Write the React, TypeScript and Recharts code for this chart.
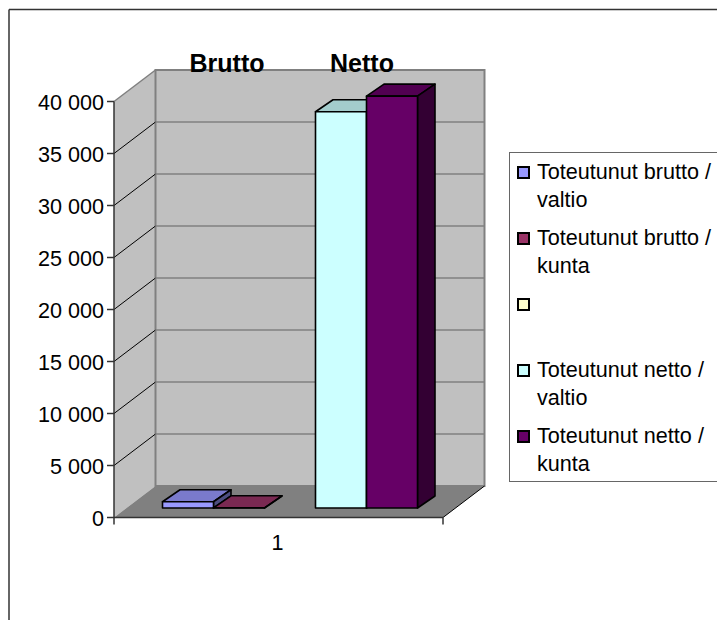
import { BarChart, Bar, XAxis, YAxis, CartesianGrid, Legend, Customized } from 'recharts'

const categories = ['1']
const seriesNames = [
  'Toteutunut brutto / valtio',
  'Toteutunut brutto / kunta',
  ' ',
  'Toteutunut netto / valtio',
  'Toteutunut netto / kunta',
]
const seriesKeys = ['bruttoValtio', 'bruttoKunta', 'blank', 'nettoValtio', 'nettoKunta']
const seriesValues = [[600], [20], [null], [38100], [39600]]
const seriesColors = ['#9999ff', '#993366', '#ffffcc', '#ccffff', '#660066']
const yTicks = [0, 5000, 10000, 15000, 20000, 25000, 30000, 35000, 40000]

const data = categories.map((category, i) => {
  const row: Record<string, any> = { category }
  seriesKeys.forEach((key, s) => { row[key] = seriesValues[s][i] })
  return row
})

const W = 717
const H = 620
const PLOT = { left: 114, right: 443, top: 101.5, bottom: 517.5 }
const WALL_DX = 41.5
const WALL_DY = -31.5
const BAR_DX = 11.5
const BAR_DY = -9.5
const FACE_DX = 17.5
const FACE_DY = -12
const FONT = '"Liberation Sans", Arial, sans-serif'
const TEXT_SIZE = 21.6

const fmt = (v: number) => (v === 0 ? '0' : `${Math.floor(v / 1000)} 000`)

const shade = (hex: string, k: number) => {
  const n = parseInt(hex.slice(1), 16)
  const c = [(n >> 16) & 255, (n >> 8) & 255, n & 255].map((v) => Math.round(v * k))
  return `rgb(${c.join(',')})`
}

const pts = (list: number[][]) => list.map((p) => p.join(',')).join(' ')

// sits behind the transparent chart svg
function Walls() {
  const { left, right, top, bottom } = PLOT
  const bl = left + WALL_DX
  const br = right + WALL_DX
  const bt = top + WALL_DY
  const bb = bottom + WALL_DY
  return (
    <svg width={W} height={H} style={{ position: 'absolute', left: 0, top: 0 }}>
      <line x1={9} y1={9.5} x2={W} y2={9.5} stroke="#333" strokeWidth={1.5} />
      <line x1={9} y1={9.5} x2={9} y2={H} stroke="#333" strokeWidth={1.5} />
      <polygon points={pts([[left, top], [bl, bt], [bl, bb], [left, bottom]])} fill="#c0c0c0" />
      <rect x={bl} y={bt} width={br - bl} height={bb - bt} fill="#c0c0c0" stroke="#808080" strokeWidth={2} />
      <polygon points={pts([[left, bottom], [bl, bb], [br, bb], [right, bottom]])} fill="#808080" />
      <line x1={right} y1={bottom} x2={br} y2={bb} stroke="#000" strokeWidth={1} />
      <line x1={left} y1={bottom} x2={left} y2={bottom + 7} stroke="#333" strokeWidth={1.5} />
      <line x1={right} y1={bottom} x2={right} y2={bottom + 7} stroke="#333" strokeWidth={1.5} />
    </svg>
  )
}

function Titles() {
  return (
    <g fontFamily={FONT} fontSize={25} fontWeight="bold" fill="#000" textAnchor="middle">
      <text x={227} y={72}>Brutto</text>
      <text x={362} y={72}>Netto</text>
    </g>
  )
}

// back wall rule plus the diagonal running across the side wall
function WallLine(props: any) {
  const { x1, y1, x2 } = props
  const isFloor = Math.abs(y1 - PLOT.bottom) < 1
  const isTop = Math.abs(y1 - PLOT.top) < 1
  if (isFloor) return null
  return (
    <g>
      <line x1={x1} y1={y1} x2={x1 + WALL_DX} y2={y1 + WALL_DY} stroke={isTop ? '#808080' : '#000'} strokeWidth={isTop ? 1.5 : 1} />
      <line x1={x1 + WALL_DX} y1={y1 + WALL_DY} x2={x2 + WALL_DX} y2={y1 + WALL_DY} stroke="#808080" strokeWidth={1.5} />
    </g>
  )
}

function Bar3D(props: any) {
  const { x, y, width, height, fill } = props
  if (height == null || Number.isNaN(height)) return null
  const l = x + BAR_DX
  const t = y + BAR_DY
  const r = l + width
  const b = t + height
  return (
    <g stroke="#000" strokeWidth={1.6} strokeLinejoin="round">
      <polygon points={pts([[l, t], [l + FACE_DX, t + FACE_DY], [r + FACE_DX, t + FACE_DY], [r, t]])} fill={shade(fill, 0.8)} />
      <polygon points={pts([[r, t], [r + FACE_DX, t + FACE_DY], [r + FACE_DX, b + FACE_DY], [r, b]])} fill={shade(fill, 0.5)} />
      <rect x={l} y={t} width={width} height={height} fill={fill} />
    </g>
  )
}

function LegendBox({ payload }: any) {
  return (
    <div
      style={{
        boxSizing: 'border-box',
        width: W - 509,
        height: 330,
        paddingTop: 5,
        border: '1.5px solid #666',
        borderRight: 'none',
        background: '#fff',
        fontFamily: FONT,
        fontSize: TEXT_SIZE,
        lineHeight: '27.5px',
        color: '#000',
        textAlign: 'left',
      }}
    >
      {(payload ?? []).map((entry: any) => (
        <div key={entry.dataKey} style={{ display: 'flex', height: 66 }}>
          <span
            style={{
              boxSizing: 'border-box',
              flex: 'none',
              width: 13,
              height: 13,
              margin: '8px 7.5px 0 6.5px',
              border: '2px solid #000',
              background: entry.color,
            }}
          />
          <span style={{ width: 178 }}>{entry.value}</span>
        </div>
      ))}
    </div>
  )
}

export default function App() {
  return (
    <div style={{ position: 'absolute', left: 0, top: 0, width: W, height: H, overflow: 'hidden', background: '#fff' }}>
      <Walls />
      <BarChart
        width={W}
        height={H}
        data={data}
        margin={{ top: PLOT.top, right: W - PLOT.right, bottom: H - PLOT.bottom - 60, left: 0 }}
        barCategoryGap={37}
        barGap={0}
      >
        <CartesianGrid vertical={false} horizontal={(p: any) => <WallLine key={p.key} {...p} />} />
        <XAxis
          dataKey="category"
          height={60}
          tick={{ fill: '#000', fontSize: TEXT_SIZE, fontFamily: FONT, dx: -1 }}
          tickLine={false}
          axisLine={{ stroke: '#333', strokeWidth: 1.5 }}
          tickMargin={11}
        />
        <YAxis
          width={PLOT.left}
          domain={[0, 40000]}
          ticks={yTicks}
          interval={0}
          tickFormatter={fmt}
          tick={{ fill: '#000', fontSize: TEXT_SIZE, fontFamily: FONT, dy: 1 }}
          tickSize={7}
          tickMargin={3}
          tickLine={{ stroke: '#333', strokeWidth: 1.5 }}
          axisLine={{ stroke: '#333', strokeWidth: 1.5 }}
        />
        <Legend
          layout="vertical"
          align="center"
          verticalAlign="middle"
          itemSorter={null}
          content={<LegendBox />}
          wrapperStyle={{ position: 'absolute', left: 509, top: 152, width: W - 509, height: 330, margin: 0 }}
        />
        {seriesKeys.map((key, s) => (
          <Bar
            key={key}
            dataKey={key}
            name={seriesNames[s]}
            fill={seriesColors[s]}
            shape={<Bar3D />}
            isAnimationActive={false}
          />
        ))}
        <Customized component={<Titles />} />
      </BarChart>
    </div>
  )
}
